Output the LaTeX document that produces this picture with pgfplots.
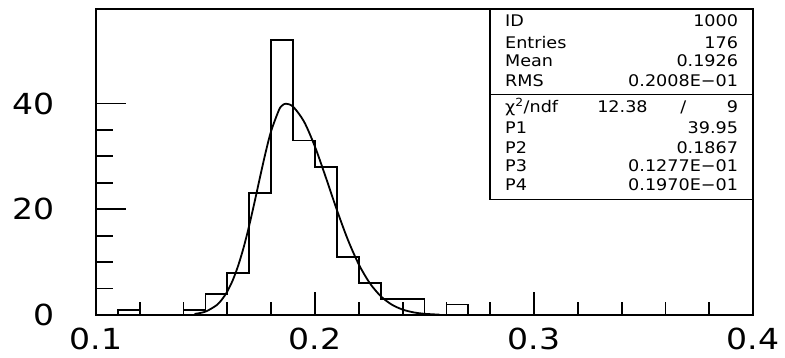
\documentclass[border=0pt]{standalone}
\usepackage{pgfplots}
\pgfplotsset{compat=1.18}
\usepackage{fontspec}
\setmainfont{DejaVu Sans}
\newfontfamily\tickfont[FakeStretch=1.14]{DejaVu Sans}
\newfontfamily\boxfont[FakeStretch=1.1]{DejaVu Sans}
\tikzset{stat/.style={font=\boxfont\fontsize{16}{16}\selectfont, inner sep=0pt, text height=11.7pt, text depth=0pt}}

\begin{document}
\begin{tikzpicture}[x=1pt,y=1pt]
\path[use as bounding box] (-96,-42) rectangle (689,315);
\pgfplotsset{
  common/.style={
    at={(0,0)}, anchor=south west,
    scale only axis, width=657pt, height=305.7pt,
    xmin=0.1, xmax=0.4, ymin=0, ymax=57.8,
    tick align=inside, tick pos=left,
    axis line style={line width=1.8pt},
    tick style={line width=1.8pt, black},
    /pgf/number format/assume math mode=true,
    every tick label/.append style={font=\tickfont\fontsize{29}{29}\selectfont, inner sep=0pt},
  },
}
\begin{axis}[common,
  xtick={0.1,0.2,0.3,0.4}, xticklabels={0.1,0.2,0.3,0.4},
  minor x tick num=4,
  ytick=\empty,
  major tick length=22.7pt, minor tick length=12.7pt,
  xticklabel style={anchor=north, yshift=-13pt},
]
\addplot[const plot, line width=1.8pt, black] coordinates {
(0.10,0)(0.11,1)(0.12,0)(0.13,0)(0.14,1)(0.15,4)(0.16,8)(0.17,23)(0.18,52)(0.19,33)(0.20,28)(0.21,11)(0.22,6)(0.23,3)(0.24,3)(0.25,0)(0.26,2)(0.27,0)(0.40,0)};
\addplot[smooth, line width=1.8pt, black] coordinates {
(0.145,0.193)(0.150,0.642)(0.155,1.834)(0.1575,2.93)(0.160,4.489)(0.1625,6.63)(0.165,9.43)(0.1675,12.90)(0.170,16.99)(0.1725,21.53)(0.175,26.26)(0.1775,30.82)(0.180,34.81)(0.1835,38.72)(0.185,39.60)(0.1867,39.95)(0.190,39.39)(0.195,36.56)(0.200,31.81)(0.205,25.95)(0.210,19.85)(0.215,14.24)(0.220,9.57)(0.225,6.04)(0.230,3.57)(0.235,1.98)(0.240,1.03)(0.245,0.50)(0.250,0.229)(0.2568,0.071)};
\draw[line width=1.4pt] (rel axis cs:0.5997,1) -- (rel axis cs:0.5997,0.3785) -- (rel axis cs:1,0.3785);
\draw[line width=1.4pt] (rel axis cs:0.5997,0.722) -- (rel axis cs:1,0.722);
\node[stat, anchor=west] at (rel axis cs:0.6225,0.9627) {ID};
\node[stat, anchor=east] at (rel axis cs:0.9776,0.9627) {1000};
\node[stat, anchor=west] at (rel axis cs:0.6225,0.8914) {Entries};
\node[stat, anchor=east] at (rel axis cs:0.9776,0.8914) {176};
\node[stat, anchor=west] at (rel axis cs:0.6225,0.8309) {Mean};
\node[stat, anchor=east] at (rel axis cs:0.9776,0.8309) {0.1926};
\node[stat, anchor=west] at (rel axis cs:0.6225,0.7655) {RMS};
\node[stat, anchor=east] at (rel axis cs:0.9776,0.7655) {0.2008E−01};
\node[stat, anchor=west] at (rel axis cs:0.6225,0.6804) {χ\textsuperscript{2}/ndf};
\node[stat, anchor=east] at (rel axis cs:0.840,0.6804) {12.38};
\node[stat, anchor=center] at (rel axis cs:0.894,0.6804) {/};
\node[stat, anchor=east] at (rel axis cs:0.9776,0.6804) {9};
\node[stat, anchor=west] at (rel axis cs:0.6225,0.6127) {P1};
\node[stat, anchor=east] at (rel axis cs:0.9776,0.6127) {39.95};
\node[stat, anchor=west] at (rel axis cs:0.6225,0.5473) {P2};
\node[stat, anchor=east] at (rel axis cs:0.9776,0.5473) {0.1867};
\node[stat, anchor=west] at (rel axis cs:0.6225,0.4884) {P3};
\node[stat, anchor=east] at (rel axis cs:0.9776,0.4884) {0.1277E−01};
\node[stat, anchor=west] at (rel axis cs:0.6225,0.4275) {P4};
\node[stat, anchor=east] at (rel axis cs:0.9776,0.4275) {0.1970E−01};
\end{axis}
\begin{axis}[common,
  xtick=\empty,
  ytick={0,20,40}, yticklabels={0,20,40},
  minor y tick num=3,
  major tick length=30pt, minor tick length=17pt,
  yticklabel style={anchor=east, xshift=-41pt},
]
\end{axis}
\end{tikzpicture}
\end{document}
